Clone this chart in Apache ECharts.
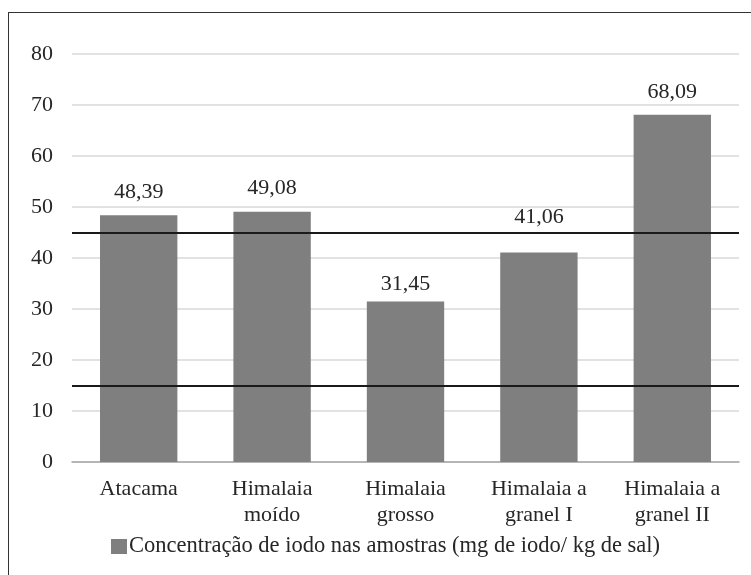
<!DOCTYPE html>
<html>
<head>
<meta charset="utf-8">
<script src="https://cdn.jsdelivr.net/npm/echarts@6/dist/echarts.min.js"></script>
<style>
    html, body { margin: 0; padding: 0; background: #fff; overflow: hidden; }
    #frame { position: absolute; left: 8px; top: 12px; width: 800px; height: 600px; border: 1.5px solid #333; }
    #chart { position: absolute; left: 0; top: 0; width: 751px; height: 575px; }
</style>
</head>
<body>
<div id="frame"></div>
<div id="chart"></div>
<script>
// categorias e valores (mg de iodo / kg de sal)
const categories = ['Atacama', 'Himalaia\nmoído', 'Himalaia\ngrosso', 'Himalaia a\ngranel I', 'Himalaia a\ngranel II'];
const values = [48.39, 49.08, 31.45, 41.06, 68.09];
const limits = [45, 15];
const seriesName = 'Concentração de iodo nas amostras (mg de iodo/ kg de sal)';

const fontFamily = '"Liberation Serif", "DejaVu Serif", serif';
const textColor = '#262626';

const chart = echarts.init(document.getElementById('chart'));

// pequenos ajustes de posição dos rótulos, como no original
const labelShift = { 2: [0, 6], 3: [0, -12] };

const barData = values.map((v, i) => {
    const item = { value: v };
    if (labelShift[i]) item.label = { offset: labelShift[i] };
    return item;
});

chart.setOption({
    animation: false,
    textStyle: { fontFamily: fontFamily },
    grid: { left: 72, right: 12, top: 54, bottom: 113 },
    legend: {
        left: 106,
        top: 530,
        itemWidth: 16,
        itemHeight: 15,
        itemGap: 10,
        textStyle: { fontFamily: fontFamily, fontSize: 22.5, color: textColor, padding: [0, 0, 0, -3] },
        data: [{ name: seriesName, icon: 'rect' }]
    },
    xAxis: {
        type: 'category',
        data: categories,
        axisTick: { show: false },
        axisLine: { lineStyle: { color: '#a6a6a6', width: 1.5 } },
        axisLabel: {
            fontFamily: fontFamily,
            fontSize: 22,
            color: textColor,
            lineHeight: 26,
            margin: 14,
            interval: 0
        }
    },
    yAxis: {
        type: 'value',
        min: 0,
        max: 80,
        interval: 10,
        axisLine: { show: false },
        axisTick: { show: false },
        axisLabel: { fontFamily: fontFamily, fontSize: 22, color: textColor, margin: 19 },
        splitLine: { lineStyle: { color: '#d9d9d9', width: 1.5 } }
    },
    series: [{
        name: seriesName,
        type: 'bar',
        data: barData,
        barCategoryGap: '42%',
        itemStyle: { color: '#7f7f7f' },
        label: {
            show: true,
            position: 'top',
            distance: 12,
            fontFamily: fontFamily,
            fontSize: 22,
            color: textColor,
            formatter: p => p.value.toFixed(2).replace('.', ',')
        },
        markLine: {
            silent: true,
            symbol: 'none',
            label: { show: false },
            lineStyle: { color: '#1a1a1a', width: 2, type: 'solid' },
            data: limits.map(v => ({ yAxis: v }))
        }
    }]
});
</script>
</body>
</html>
